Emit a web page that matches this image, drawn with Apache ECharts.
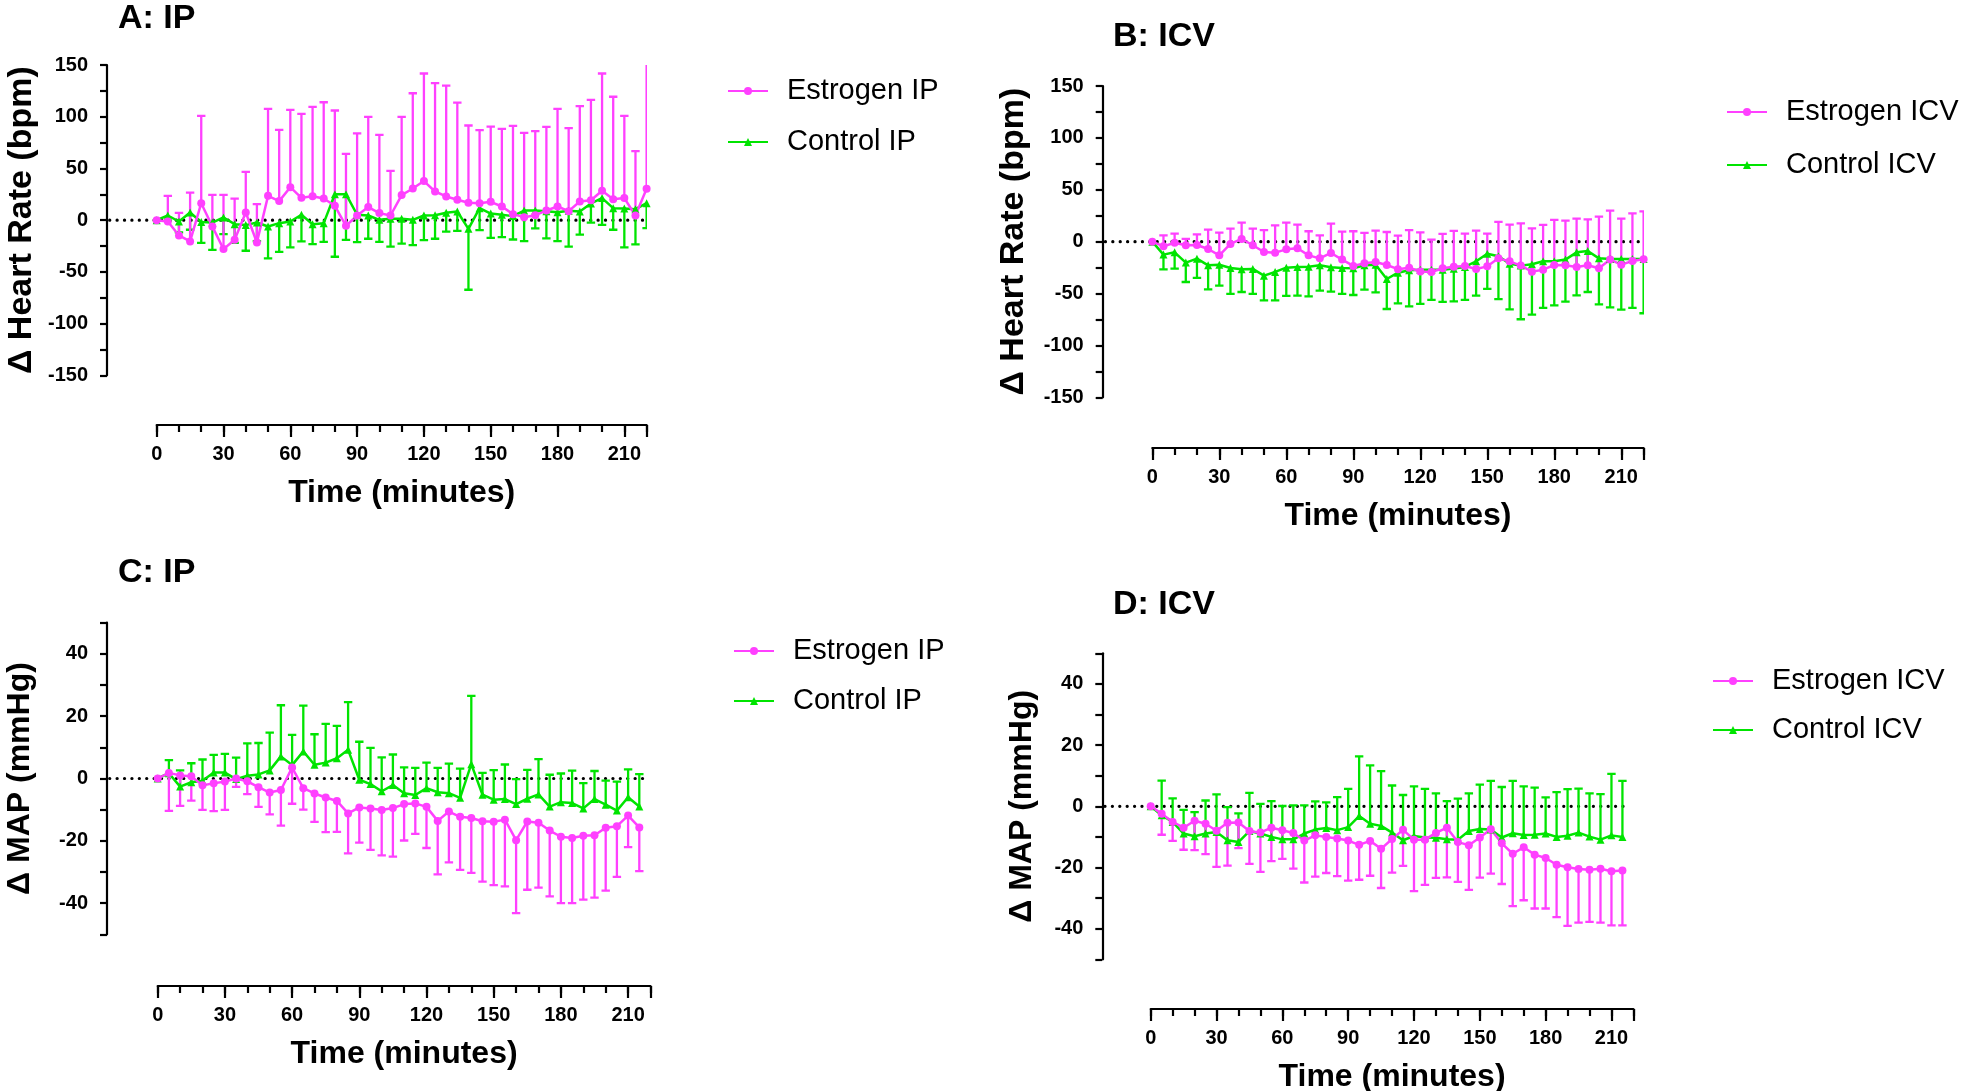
<!DOCTYPE html>
<html><head><meta charset="utf-8">
<script src="https://cdn.jsdelivr.net/npm/echarts@6/dist/echarts.min.js"></script>
<style>html,body{margin:0;padding:0;background:#fff}#c{width:1961px;height:1091px}</style>
</head><body><div id="c"></div>
<script>
// ---------------- DATA ----------------
const time45 = [0,5,10,15,20,25,30,35,40,45,50,55,60,65,70,75,80,85,90,95,100,105,110,115,120,125,130,135,140,145,150,155,160,165,170,175,180,185,190,195,200,205,210,215,220];
const time44 = [0,5,10,15,20,25,30,35,40,45,50,55,60,65,70,75,80,85,90,95,100,105,110,115,120,125,130,135,140,145,150,155,160,165,170,175,180,185,190,195,200,205,210,215];
const xTickLabels = [0,30,60,90,120,150,180,210];

// A: heart rate, IP
const hrIpEstrogen = [0,-1.3,-14.8,-20.6,16.4,-6.1,-28,-19,7.4,-21.6,23.5,18.4,31.9,21.6,23.2,20.9,13.9,-5.5,4.5,12.6,6.8,4.5,24.2,30.6,37.8,27.7,22.9,19.7,16.8,16.4,17.7,13.2,5.8,2.9,4.8,9.3,13.2,8.7,18,19.3,28.4,20.3,21.3,4.5,30.3];
const hrIpEstrogenSem = [0,24.8,21.9,47.3,84.4,30.6,52.5,39.9,39.3,37.1,84.1,68.9,74.7,81.2,86.3,93.1,92.1,69.6,79.3,87.3,75.7,43.2,75.7,92.1,104,104.7,107.1,94,74.7,70.6,72.8,75.1,85.4,81.5,81.2,80.9,94.4,80.2,92.2,97,113.4,99,79.5,62.2,130];
const hrIpControl = [0,4.5,-1.3,7.4,-1.9,-2.3,2.6,-3.9,-4.8,-2.3,-6.1,-2.9,-1.3,5.2,-3.9,-2.9,25.1,25.1,5.2,4.5,0.3,1.3,1.3,0.3,4.5,4.8,7.1,8.4,-8.4,11.6,6.4,5.2,3.9,9.3,9.3,8.7,7.7,9,8.4,16.1,21.3,11.6,11.3,10.6,16.4];
const hrIpControlSem = [0,5,10.6,16.7,20.1,26.4,16.1,18.1,24.8,18,30.9,27.7,25.1,25.8,19.3,18.1,60.5,44.1,26.5,22.5,21.3,26.8,23.9,24.5,23.8,22.8,18.1,18.7,58.9,21.3,23.5,21.6,22.6,29.6,17.3,26.4,28,34.5,22.3,18.4,25.8,20.9,37.7,34.1,24.1];

// B: heart rate, ICV
const hrIcvEstrogen = [0,-4.5,-1,-3.5,-3.2,-7.1,-13.2,-2.2,2.6,-3.5,-10,-10.6,-7.4,-6.4,-13.2,-16.1,-10.9,-17.3,-23.4,-20.9,-19.6,-22.5,-26.5,-25.1,-28.8,-29.2,-25.7,-24.1,-23.4,-26.3,-23.8,-16.1,-19,-23.1,-28.9,-27,-22.5,-22.8,-24.4,-22.8,-25.7,-17.3,-22.2,-18.6,-17];
const hrIcvEstrogenSem = [0,10.6,8.7,6.1,10.3,18.7,21.9,14.7,15.7,16,21.2,26.3,25.7,22.8,23.2,22.2,28.2,26.9,33.4,29.3,30.2,31.8,32.3,36.3,37.8,31.1,33.1,34.4,31.1,36.9,31.5,35.1,35.4,40.8,41.7,43.1,43.4,43,46.6,44.3,49.8,47.2,44.4,45.9,46.2];
const hrIcvControl = [0,-12.5,-10.3,-20.2,-16.4,-22.8,-22.2,-25.4,-26.7,-26.3,-32.8,-29.2,-25.1,-24.4,-24.1,-22.8,-24.7,-25.4,-25.7,-22.8,-22.2,-36,-29.9,-27.6,-27,-27,-27,-26,-24.4,-18.9,-11.6,-14.1,-21.2,-23.1,-21.8,-18.9,-18.9,-17.3,-10.3,-9,-16.1,-16.7,-16.7,-16.7,-16.7];
const hrIcvControlSem = [0,14.2,15.7,18.7,18.6,23.1,20.2,25,21.8,24.1,23.7,27.3,27.2,27.6,28.6,24.4,23.5,25,25.7,23.5,26.6,28.9,29.5,34.7,33,29.2,31.1,31.5,31.8,33.1,34,41.2,44,51.7,48.5,45,42.5,40.5,41.4,39.5,44.3,46.6,48.8,47.2,52.3];

// C: MAP, IP
const mapIpEstrogen = [0,1.8,1,0.7,-2.2,-1.5,-1,0,-0.9,-2.8,-4.5,-3.7,3.5,-3.1,-4.8,-6.1,-7.2,-11.2,-9.3,-9.6,-10.1,-9.5,-8.2,-8,-9.1,-13.6,-10.6,-12.3,-12.7,-13.7,-13.9,-13.2,-19.8,-13.8,-14.2,-16.7,-18.7,-19.1,-18.4,-18.2,-15.8,-15.3,-11.9,-15.7];
const mapIpEstrogenSem = [0,12.2,9.8,7.8,7.9,9,9.1,2.7,4.1,6.3,7,11.4,11.6,6.9,9.1,11.1,9.9,12.8,11.3,13.3,14.6,15.6,11.7,9.8,13.2,17.2,16.3,17,17.6,19.4,20.3,21.4,23.4,21.9,20.8,21.1,21.3,20.9,20.5,20,20.2,16.3,10.1,14];
const mapIpControl = [0,1.7,-2.6,-1.2,-0.7,1.9,1.9,-0.2,0.9,1.3,2.6,7.1,4.3,8.7,4.4,5.1,6.5,9.2,-0.4,-1.8,-4.1,-2.1,-4.7,-5.3,-3.1,-4.4,-4.7,-6.2,4.6,-5.2,-6.8,-6.6,-8.2,-6.5,-5.1,-9,-7.6,-7.9,-9.6,-6.6,-8.4,-10.3,-6,-9];
const mapIpControlSem = [0,4.2,5.2,6.1,6.8,5.7,6,6.9,10.4,10.1,12.1,16.4,9.7,14.7,9.8,12.4,10.4,15.3,12.2,11.6,10.9,9.8,8.3,8.7,8.2,7.8,9.5,9.4,21.9,7,9.5,11.1,8,9.3,11.3,10.2,9.2,10.4,8.1,9,7.7,9.3,8.9,10.4];

// D: MAP, ICV
const mapIcvEstrogen = [0,-2.4,-5.1,-7,-4.7,-5.7,-8,-5.4,-5.3,-8.1,-8.6,-7,-7.8,-8.7,-11.2,-9.5,-10,-10.5,-11.2,-12.6,-11.3,-13.9,-10.7,-7.7,-10.9,-10.9,-8.7,-7,-11.7,-12.7,-10.2,-7.5,-12.1,-15.5,-13.4,-15.8,-16.9,-19.1,-19.9,-20.5,-20.7,-20.4,-21.2,-21];
const mapIcvEstrogenSem = [0,6.9,6.2,7.2,9.6,9.9,11.8,14,8.4,10.7,12.8,10.9,9.4,11.7,13.7,13.5,11.8,12.3,13.1,11.4,11.4,12.8,11,11.8,16.8,14.8,14.7,16.2,13,14.6,13.1,14.5,13.3,17.1,17.3,17.6,16.5,17.1,19.2,17.5,17.1,17.6,17.7,17.9];
const mapIcvControl = [0,-2.9,-5.1,-8.9,-9.8,-8.9,-8.4,-11.1,-11.7,-8.1,-8.9,-10,-10.8,-10.8,-8.9,-7.6,-7.1,-7.8,-6.8,-3.2,-5.7,-6.4,-8.6,-11.1,-9.7,-10.2,-10.3,-10.8,-10.9,-8.1,-7.4,-7.6,-10.2,-8.8,-9.4,-9.3,-8.9,-10,-9.6,-8.6,-9.9,-10.9,-9.5,-10];
const mapIcvControlSem = [0,11.3,7.7,7.7,7.9,10.8,12.3,10.8,9.4,12.5,9.7,11.7,10.9,11.1,9.2,9.2,8.4,10.8,12.5,19.5,19.1,17.9,15.4,14.8,16.2,15.9,14.5,12.5,13.4,12.3,14.5,15.9,16.5,17.1,15.9,15.4,11.8,14.6,15.2,14.4,14.1,14.9,20.1,18.3];

// ---------------- STYLE / LAYOUT ----------------
const FONT = '"Liberation Sans", Arial, Helvetica, sans-serif';
const PINK = '#FF40FF', GREEN = '#00E400';
const X_MAX = 220;

const panels = [
  { title:'A: IP', tl:113, tt:-3, yName:'Δ Heart Rate (bpm)', yNameSize:34, yMin:-150, yMax:150, yStep:25, yLab:50, yGap:68,
    times:time45, est:hrIpEstrogen, estSem:hrIpEstrogenSem, ctl:hrIpControl, ctlSem:hrIpControlSem, estDir:1,
    names:['Estrogen IP','Control IP'], lg:{left:722, top:70, gap:19},
    box:{yAxisX:107, x0:156.7, xEnd:646.6, top:65, bottom:375.3, xAxisY:425}, xGap:52 },
  { title:'B: ICV', tl:1108, tt:15, yName:'Δ Heart Rate (bpm)', yNameSize:34, yMin:-150, yMax:150, yStep:25, yLab:50, yGap:72,
    times:time45, est:hrIcvEstrogen, estSem:hrIcvEstrogenSem, ctl:hrIcvControl, ctlSem:hrIcvControlSem, estDir:1,
    names:['Estrogen ICV','Control ICV'], lg:{left:1721, top:91, gap:21},
    box:{yAxisX:1102.7, x0:1152.3, xEnd:1643.6, top:86, bottom:397.3, xAxisY:448}, xGap:52 },
  { title:'C: IP', tl:113, tt:551, yName:'Δ MAP (mmHg)', yNameSize:32, yMin:-50, yMax:50, yStep:10, yLab:20, yGap:71,
    times:time44, est:mapIpEstrogen, estSem:mapIpEstrogenSem, ctl:mapIpControl, ctlSem:mapIpControlSem, estDir:-1,
    names:['Estrogen IP','Control IP'], lg:{left:728, top:630, gap:18},
    box:{yAxisX:107, x0:157.7, xEnd:650.5, top:622.7, bottom:934.3, xAxisY:986}, xGap:52 },
  { title:'D: ICV', tl:1108, tt:583, yName:'Δ MAP (mmHg)', yNameSize:32, yMin:-50, yMax:50, yStep:10, yLab:20, yGap:64,
    times:time44, est:mapIcvEstrogen, estSem:mapIcvEstrogenSem, ctl:mapIcvControl, ctlSem:mapIcvControlSem, estDir:-1,
    names:['Estrogen ICV','Control ICV'], lg:{left:1707, top:660, gap:17},
    box:{yAxisX:1102.3, x0:1150.7, xEnd:1633.4, top:653.3, bottom:959.3, xAxisY:1009}, xGap:52 }
];

function errSeries(times, means, sems, dir, color, xi, yi) {
  const data = times.map((t, k) => [t, means[k], means[k] + dir * sems[k]]);
  return {
    type:'custom', xAxisIndex:xi, yAxisIndex:yi, clip:true, silent:true,
    encode:{x:0, y:[1,2]}, data,
    renderItem(params, api) {
      const p0 = api.coord([api.value(0), api.value(1)]);
      const p1 = api.coord([api.value(0), api.value(2)]);
      if (Math.abs(p1[1] - p0[1]) < 0.5) return null;
      return { type:'group', children:[
        { type:'line', shape:{x1:p0[0], y1:p0[1], x2:p1[0], y2:p1[1]}, style:{stroke:color, lineWidth:2.3} },
        { type:'line', shape:{x1:p1[0]-4.2, y1:p1[1], x2:p1[0]+4.2, y2:p1[1]}, style:{stroke:color, lineWidth:2.3} }
      ]};
    }
  };
}

const option = { animation:false, backgroundColor:'#fff', title:[], grid:[], xAxis:[], yAxis:[], legend:[], series:[] };
const axisLineStyle = { color:'#000', width:2.2 };
const tickFont = { color:'#000', fontSize:20, fontWeight:'bold', fontFamily:FONT };

panels.forEach((p, i) => {
  const b = p.box;
  const xMinData = -(b.x0 - b.yAxisX) / (b.xEnd - b.x0) * X_MAX;
  option.title.push({ text:p.title, left:p.tl, top:p.tt,
    textStyle:{ color:'#000', fontSize:34, fontWeight:'bold', fontFamily:FONT } });
  option.grid.push({ left:b.yAxisX, top:b.top, width:b.xEnd - b.yAxisX, height:b.bottom - b.top, containLabel:false, outerBoundsMode:'none' });
  option.grid.push({ left:b.x0, top:b.top, width:b.xEnd - b.x0, height:b.bottom - b.top, containLabel:false, outerBoundsMode:'none' });
  const gD = 2*i, gA = 2*i + 1;
  const xD = 3*i, yV = 2*i;
  option.xAxis.push({ type:'value', gridIndex:gD, min:xMinData, max:X_MAX, show:false });
  option.xAxis.push({ type:'value', gridIndex:gA, min:0, max:X_MAX, interval:10, position:'bottom', offset:b.xAxisY - b.bottom,
    axisLine:{ show:true, onZero:false, lineStyle:axisLineStyle }, axisTick:{ show:true, length:7, lineStyle:axisLineStyle },
    splitLine:{ show:false },
    axisLabel:{ ...tickFont, margin:19, formatter:v => xTickLabels.includes(v) ? String(v) : '' },
    name:'Time (minutes)', nameLocation:'middle', nameGap:p.xGap,
    nameTextStyle:{ color:'#000', fontSize:32, fontWeight:'bold', fontFamily:FONT } });
  option.xAxis.push({ type:'value', gridIndex:gA, min:0, max:X_MAX, interval:30, position:'bottom', offset:b.xAxisY - b.bottom,
    axisLine:{ show:false, onZero:false }, axisTick:{ show:true, length:12, lineStyle:axisLineStyle }, axisLabel:{ show:false }, splitLine:{ show:false } });
  option.yAxis.push({ type:'value', gridIndex:gD, min:p.yMin, max:p.yMax, interval:p.yStep, position:'left',
    axisLine:{ show:true, onZero:false, lineStyle:axisLineStyle }, axisTick:{ show:true, length:7, lineStyle:axisLineStyle },
    splitLine:{ show:false },
    axisLabel:{ ...tickFont, margin:19, formatter:v => (v % p.yLab === 0) ? String(v) : '' },
    name:p.yName, nameLocation:'middle', nameGap:p.yGap,
    nameTextStyle:{ color:'#000', fontSize:p.yNameSize, fontWeight:'bold', fontFamily:FONT } });
  option.yAxis.push({ type:'value', gridIndex:gA, min:p.yMin, max:p.yMax, show:false });

  // dotted zero line
  option.series.push({ type:'line', xAxisIndex:xD, yAxisIndex:yV, silent:true, symbol:'none',
    data:[[xMinData + 1.2, 0], [X_MAX - 1.5, 0]], lineStyle:{ color:'#000', width:3.2, type:[0.1, 7.3], cap:'round' }, z:1 });
  // control
  option.series.push(errSeries(p.times, p.ctl, p.ctlSem, -p.estDir, GREEN, xD, yV));
  option.series.push({ type:'line', name:p.names[1], xAxisIndex:xD, yAxisIndex:yV,
    data:p.times.map((t,k)=>[t, p.ctl[k]]), symbol:'triangle', symbolSize:8, showSymbol:true,
    itemStyle:{ color:GREEN }, lineStyle:{ color:GREEN, width:2.5 } });
  // estrogen
  option.series.push(errSeries(p.times, p.est, p.estSem, p.estDir, PINK, xD, yV));
  option.series.push({ type:'line', name:p.names[0], xAxisIndex:xD, yAxisIndex:yV,
    data:p.times.map((t,k)=>[t, p.est[k]]), symbol:'circle', symbolSize:8, showSymbol:true,
    itemStyle:{ color:PINK }, lineStyle:{ color:PINK, width:2.5 } });

  option.legend.push({ orient:'vertical', left:p.lg.left, top:p.lg.top, itemGap:p.lg.gap,
    itemWidth:40, itemHeight:10, data:[p.names[0], p.names[1]], selectedMode:false,
    textStyle:{ color:'#000', fontSize:29, fontFamily:FONT, lineHeight:32, padding:[0,0,0,14] } });
});

const chart = echarts.init(document.getElementById('c'), null, { renderer:'canvas', width:1961, height:1091 });
chart.setOption(option);
</script>
</body></html>
